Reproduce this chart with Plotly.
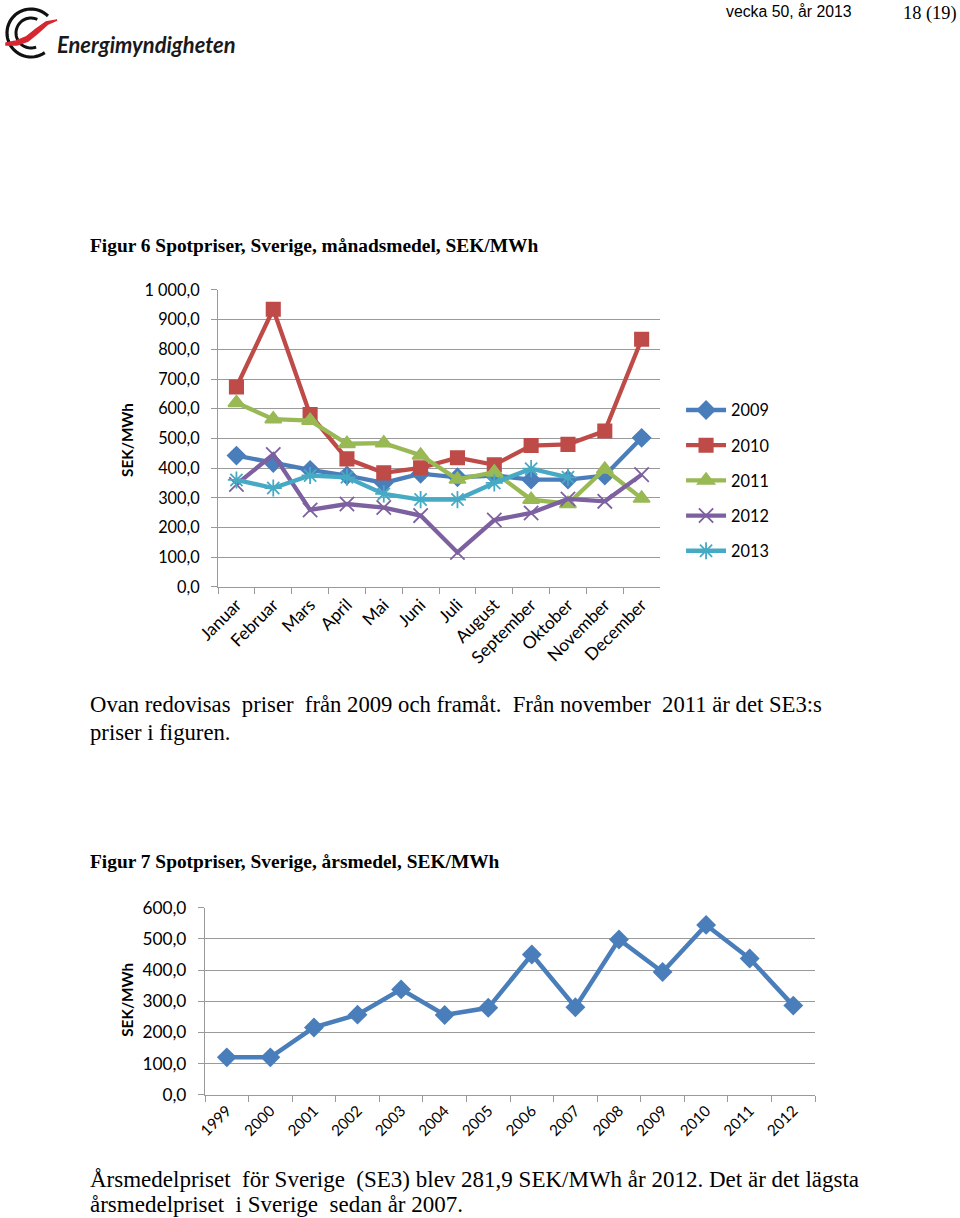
import plotly.graph_objects as go
import numpy as np

W, H = 960, 1218

months = ["Januar", "Februar", "Mars", "April", "Mai", "Juni", "Juli",
          "August", "September", "Oktober", "November", "December"]
s2009 = [442, 417, 394, 375, 350, 381, 369, 375, 361, 361, 375, 502]
s2010 = [673, 935, 580, 431, 384, 401, 435, 411, 476, 480, 525, 834]
s2011 = [620, 565, 560, 482, 484, 443, 362, 386, 294, 280, 396, 298]
s2012 = [345, 446, 259, 279, 267, 240, 116, 225, 249, 296, 288, 378]
s2013 = [360, 333, 375, 369, 313, 294, 294, 350, 398, 369]

years = ["1999", "2000", "2001", "2002", "2003", "2004", "2005", "2006",
         "2007", "2008", "2009", "2010", "2011", "2012"]
annual = [120, 120, 216, 257, 338, 256, 279, 450, 281, 498, 394, 545, 437, 286]

series = [
    ("2009", s2009, "diamond", "#4A7EBB", 13),
    ("2010", s2010, "square", "#BE4B48", 13),
    ("2011", s2011, "triangle-up", "#98B954", 14),
    ("2012", s2012, "x-thin-open", "#7D60A0", 14),
    ("2013", s2013, "asterisk-open", "#46AAC5", 14),
]

# The captured page shows the figure slightly shifted/shrunk; compensate.
OX, SX, OY, SY = 22.0, 0.977, 11.0, 0.983
FS = 1 / 0.98


def px(x):
    return ((x - OX) / SX) / W


def py(y):
    return 1 - ((y - OY) / SY) / H


def f(s):
    return round(s * FS, 1)


AXF = "Lato, 'Open Sans', sans-serif"
SERIF = "'Liberation Serif', 'DejaVu Serif', serif"
GRID = "#9a9a9a"

fig = go.Figure()
for name, vals, sym, col, size in series:
    fig.add_trace(go.Scatter(
        x=months[:len(vals)], y=vals, name=name, mode="lines+markers",
        line=dict(color=col, width=4.3),
        marker=dict(symbol=sym, size=f(size), color=col,
                    line=dict(color=col, width=1.8)),
        xaxis="x", yaxis="y", legendgroup=name))

fig.add_trace(go.Scatter(
    x=years, y=annual, mode="lines+markers", showlegend=False,
    line=dict(color="#4A7EBB", width=4.5),
    marker=dict(symbol="diamond", size=f(15), color="#4A7EBB"),
    xaxis="x2", yaxis="y2"))

common_x = dict(type="category", tickangle=-45, showgrid=False, showline=True,
                linecolor=GRID, linewidth=1.3, ticks="outside", tickson="boundaries",
                ticklen=6, tickcolor=GRID, zeroline=False)
common_y = dict(showgrid=True, gridcolor=GRID, gridwidth=1.3, showline=True,
                linecolor=GRID, linewidth=1.3, ticks="outside", ticklen=6,
                tickcolor=GRID, zeroline=False, tickformat=",.1f",
                ticklabelstandoff=8)

fig.update_layout(
    width=W, height=H, margin=dict(l=0, r=0, t=0, b=0),
    paper_bgcolor="white", plot_bgcolor="white",
    separators=", ",
    showlegend=True,
    legend=dict(x=px(681), y=py(393), xanchor="left", yanchor="top",
                font=dict(family=AXF, size=f(16), color="#000"),
                itemwidth=40, tracegroupgap=11, bgcolor="rgba(0,0,0,0)"),
    xaxis=dict(domain=[px(218), px(660)], anchor="y", range=[-0.5, 11.5],
               tickfont=dict(family=AXF, size=f(17), color="#000"), **common_x),
    yaxis=dict(domain=[py(587), py(290)], anchor="x", range=[0, 1000], dtick=100,
               tickfont=dict(family=AXF, size=f(16), color="#000"), **common_y),
    xaxis2=dict(domain=[px(205), px(815)], anchor="y2", range=[-0.5, 13.5],
                tickfont=dict(family=AXF, size=f(15), color="#000"), **common_x),
    yaxis2=dict(domain=[py(1095), py(908)], anchor="x2", range=[0, 600], dtick=100,
                tickfont=dict(family=AXF, size=f(17), color="#000"), **common_y),
)

ann = []


def text(x, y, s, size, family, xanchor="left", yanchor="middle", angle=0, color="#000"):
    ann.append(dict(x=px(x), y=py(y), xref="paper", yref="paper", text=s,
                    showarrow=False, xanchor=xanchor, yanchor=yanchor,
                    textangle=angle, font=dict(size=f(size), family=family, color=color)))


text(854, 11, "vecka 50, år 2013", 15.5, "'Liberation Sans', Arial, sans-serif", xanchor="right")
text(959, 14, "18 (19)", 18, SERIF, xanchor="right")
text(55, 45, "<b><i>Energimyndigheten</i></b>", 21.5, AXF, color="#1a1a1a")

text(88, 246, "<b>Figur 6 Spotpriser, Sverige, månadsmedel, SEK/MWh</b>", 19, SERIF)
text(127, 440, "<b>SEK/MWh</b>", 15, AXF, xanchor="center", angle=-90)
text(88, 705, "Ovan redovisas  priser  från 2009 och framåt.  Från november  2011 är det SE3:s", 22.2, SERIF)
text(88, 733, "priser i figuren.", 22.2, SERIF)

text(88, 862, "<b>Figur 7 Spotpriser, Sverige, årsmedel, SEK/MWh</b>", 19, SERIF)
text(127, 1000, "<b>SEK/MWh</b>", 15, AXF, xanchor="center", angle=-90)
text(88, 1180, "Årsmedelpriset  för Sverige  (SE3) blev 281,9 SEK/MWh år 2012. Det är det lägsta", 22.5, SERIF)
text(88, 1205, "årsmedelpriset  i Sverige  sedan år 2007.", 22.5, SERIF)

fig.update_layout(annotations=ann)


# Logo (decorative)
def arc_path(cx, cy, r, a0, a1, n=40):
    t = np.linspace(np.radians(a0), np.radians(a1), n)
    pts = [(px(cx + r * np.cos(a)), py(cy - r * np.sin(a))) for a in t]
    return "M " + " L ".join(f"{x:.5f},{y:.5f}" for x, y in pts)


shapes = [
    dict(type="path", path=arc_path(31, 33, 24, 45, 305), xref="paper", yref="paper",
         line=dict(color="#111", width=3.2)),
    dict(type="path", path=arc_path(31, 33, 15, 65, 290), xref="paper", yref="paper",
         line=dict(color="#111", width=3)),
]
sw = [(6, 43), (16, 41), (26, 37), (36, 29), (46, 22), (57, 20), (48, 24), (38, 33),
      (28, 41), (17, 45), (6, 45)]
path = "M " + " L ".join(f"{px(x):.5f},{py(y):.5f}" for x, y in sw) + " Z"
shapes.append(dict(type="path", path=path, xref="paper", yref="paper",
                   fillcolor="#D7262F", line=dict(color="#D7262F", width=1.5)))
fig.update_layout(shapes=shapes)

fig.write_html("out.html", config={"displayModeBar": False},
               post_script="document.body.style.margin='0';document.body.style.overflow='hidden';")
